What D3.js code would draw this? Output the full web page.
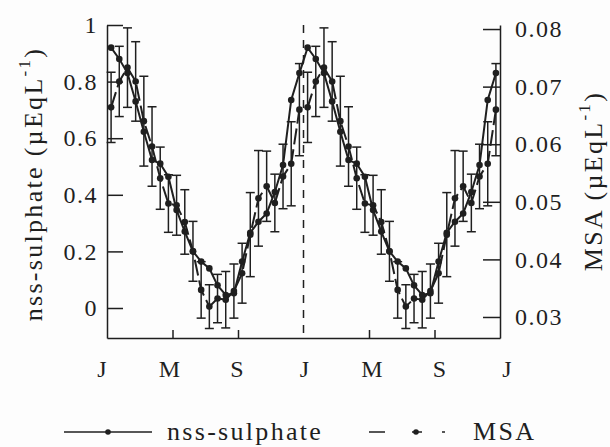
<!DOCTYPE html>
<html>
<head>
<meta charset="utf-8">
<script src="https://cdn.jsdelivr.net/npm/d3@7"></script>
</head>
<body style="margin:0; background:#fdfdfd">
<div id="chart"></div>
<script>
// Month axis: J M S J M S J over two repeated years
const monthTicks = [0, 4, 8, 12, 16, 20, 24];
const monthLabels = ["J", "M", "S", "J", "M", "S", "J"];

// Semi-monthly means (24 per year), left axis, µEq/L
const sulphate = [0.92, 0.88, 0.83, 0.73, 0.623, 0.523, 0.51, 0.464, 0.346, 0.27, 0.2, 0.164,
  0.14, 0.08, 0.046, 0.052, 0.164, 0.266, 0.305, 0.334, 0.41, 0.505, 0.735, 0.83];

// MSA, right axis, µEq/L, with error bar half-widths
const msa = [0.0664, 0.0709, 0.0733, 0.0709, 0.064, 0.0596, 0.0541, 0.0497, 0.0494, 0.0465, 0.0414, 0.0347,
  0.0318, 0.0332, 0.033, 0.0345, 0.0376, 0.0443, 0.0506, 0.0527, 0.0498, 0.0544, 0.0566, 0.066];
const msaErr = [0.0061, 0.0061, 0.0069, 0.0069, 0.0078, 0.0069, 0.0054, 0.005, 0.0052, 0.0056, 0.0052, 0.0049,
  0.0038, 0.0042, 0.0049, 0.0047, 0.0052, 0.0073, 0.0083, 0.0061, 0.005, 0.0056, 0.0073, 0.008];

const leftTicks = [0, 0.2, 0.4, 0.6, 0.8, 1];
const rightTicks = [0.03, 0.04, 0.05, 0.06, 0.07, 0.08];

const width = 610, height = 447;
const ink = "#1f1f1f";
const serif = '"Liberation Serif"';

// Scales
const x = d3.scaleLinear().domain([0, 24]).range([107, 500]);
const xLabel = d3.scaleLinear().domain([0, 24]).range([102, 507]);
const yL = d3.scaleLinear().domain([-0.106, 1]).range([338, 25]);
const yR = d3.scaleLinear().domain([0.02635, 0.0807]).range([338, 25]);

// The yearly cycle is shown twice
const years = [0, 12];
const sPoints = d3.merge(years.map((y0) => sulphate.map((v, i) => ({ t: y0 + 0.25 + 0.5 * i, v }))));
const mPoints = d3.merge(years.map((y0) => msa.map((v, i) => ({ t: y0 + 0.25 + 0.5 * i, v, e: msaErr[i] }))));

const svg = d3.select("#chart").append("svg")
  .attr("width", width)
  .attr("height", height)
  .style("display", "block");

svg.append("rect").attr("width", width).attr("height", height).attr("fill", "#fdfdfd");

const serifText = (sel, size) => sel
  .attr("font-family", "Liberation Serif")
  .style("font-family", serif)
  .attr("font-size", size)
  .attr("fill", ink);

// Axes
const styleAxis = (g) => {
  g.attr("font-family", "Liberation Serif");
  g.selectAll("path, line").attr("stroke", ink).attr("stroke-width", 1.5);
  g.selectAll("text").call(serifText, 24).attr("letter-spacing", 1.5);
};

svg.append("g")
  .attr("transform", "translate(107,0)")
  .call(d3.axisLeft(yL).tickValues(leftTicks).tickSize(-16).tickSizeOuter(0).tickPadding(9)
    .tickFormat((d) => (d === 0 || d === 1 ? String(d) : d3.format(".1f")(d))))
  .call(styleAxis);

svg.append("g")
  .attr("transform", "translate(500,0)")
  .call(d3.axisRight(yR).tickValues(rightTicks).tickSize(-17).tickSizeOuter(0).tickPadding(15)
    .tickFormat(d3.format(".2f")))
  .call(styleAxis);

svg.append("g")
  .attr("transform", "translate(0,338)")
  .call(d3.axisBottom(x).tickValues([4, 8, 16, 20]).tickSize(-8).tickSizeOuter(0).tickFormat(""))
  .call(styleAxis);

svg.append("g")
  .selectAll("text")
  .data(monthTicks)
  .join("text")
  .attr("x", (d) => xLabel(d))
  .attr("y", 377)
  .attr("text-anchor", "middle")
  .call(serifText, 24)
  .text((d, i) => monthLabels[i]);

// Year boundary
svg.append("line")
  .attr("x1", x(12)).attr("x2", x(12))
  .attr("y1", yL.range()[1]).attr("y2", yL.range()[0])
  .attr("stroke", ink)
  .attr("stroke-width", 1.5)
  .attr("stroke-dasharray", "8,7");

// MSA error bars
const bars = svg.append("g").attr("stroke", ink).attr("stroke-width", 1.5)
  .selectAll("g").data(mPoints).join("g");
bars.append("line")
  .attr("x1", (d) => x(d.t)).attr("x2", (d) => x(d.t))
  .attr("y1", (d) => yR(d.v - d.e)).attr("y2", (d) => yR(d.v + d.e));
bars.append("line")
  .attr("x1", (d) => x(d.t) - 4.5).attr("x2", (d) => x(d.t) + 4.5)
  .attr("y1", (d) => yR(d.v + d.e)).attr("y2", (d) => yR(d.v + d.e));
bars.append("line")
  .attr("x1", (d) => x(d.t) - 4.5).attr("x2", (d) => x(d.t) + 4.5)
  .attr("y1", (d) => yR(d.v - d.e)).attr("y2", (d) => yR(d.v - d.e));

// Lines
const lineS = d3.line().x((d) => x(d.t)).y((d) => yL(d.v));
const lineM = d3.line().x((d) => x(d.t)).y((d) => yR(d.v));

svg.append("path")
  .datum(sPoints)
  .attr("fill", "none")
  .attr("stroke", ink)
  .attr("stroke-width", 2)
  .attr("d", lineS);

svg.append("path")
  .datum(mPoints)
  .attr("fill", "none")
  .attr("stroke", ink)
  .attr("stroke-width", 2)
  .attr("stroke-dasharray", "16,5")
  .attr("d", lineM);

svg.append("g").attr("fill", ink)
  .selectAll("circle").data(sPoints).join("circle")
  .attr("cx", (d) => x(d.t)).attr("cy", (d) => yL(d.v)).attr("r", 3.3);

svg.append("g").attr("fill", ink)
  .selectAll("circle").data(mPoints).join("circle")
  .attr("cx", (d) => x(d.t)).attr("cy", (d) => yR(d.v)).attr("r", 3.3);

// Axis titles
const title = (xPos, yPos, main) => {
  const t = svg.append("text")
    .attr("transform", `translate(${xPos},${yPos}) rotate(-90)`)
    .attr("text-anchor", "middle")
    .call(serifText, 26)
    .attr("letter-spacing", 2.3);
  t.append("tspan").text(main + " (\u00b5EqL");
  t.append("tspan").attr("font-size", 17).attr("dy", "-0.7em").text("-1");
  t.append("tspan").attr("dy", "0.45em").text(")");
};
title(42, 184, "nss-sulphate");
title(602, 181, "MSA");

// Legend
const legend = svg.append("g").attr("fill", ink).attr("stroke", ink);
legend.append("line").attr("x1", 64).attr("x2", 152).attr("y1", 432).attr("y2", 432).attr("stroke-width", 1.5);
legend.append("circle").attr("cx", 108).attr("cy", 432).attr("r", 2.8).attr("stroke", "none");
legend.append("text").attr("x", 167).attr("y", 440).call(serifText, 26).attr("letter-spacing", 2.3)
  .attr("stroke", "none").text("nss-sulphate");
legend.append("line").attr("x1", 369).attr("x2", 446).attr("y1", 432).attr("y2", 432).attr("stroke-width", 1.5)
  .attr("stroke-dasharray", "16,27,10,20,3,100");
legend.append("circle").attr("cx", 416).attr("cy", 432).attr("r", 2.8).attr("stroke", "none");
legend.append("text").attr("x", 473).attr("y", 440).call(serifText, 26).attr("letter-spacing", 2.3)
  .attr("stroke", "none").text("MSA");
</script>
</body>
</html>
